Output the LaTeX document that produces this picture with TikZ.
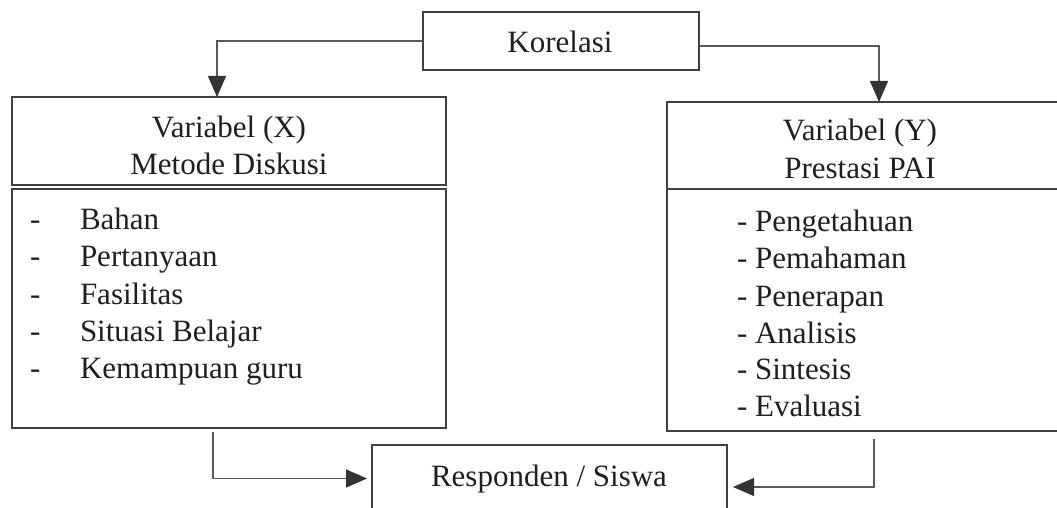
\documentclass[tikz,border=0pt]{standalone}
\usepackage{fontspec}
\setmainfont{Liberation Serif}
\usetikzlibrary{arrows.meta}
\begin{document}
\begin{tikzpicture}[x=1pt,y=-1pt,
  box/.style={draw=black!75, line width=1.2pt, rectangle, inner sep=0pt, outer sep=0pt},
  lbl/.style={anchor=base, inner sep=0pt, outer sep=0pt, text=black!88, font=\fontsize{31}{37}\selectfont},
  lbw/.style={lbl, anchor=base west},
  conn/.style={draw=black!65, line width=1.1pt},
  arr/.style={conn, -{Triangle[length=21pt,width=18pt,color=black!80,fill=black!80]}}]
\useasboundingbox (0,0) rectangle (1057,508);
\clip (0,0) rectangle (1057,508);
% boxes
\node[box, minimum width=276pt, minimum height=58pt] (kor) at (561,41) {};
\node[box, minimum width=434pt, minimum height=88pt] (lxh) at (229,141) {};
\node[box, minimum width=434pt, minimum height=239pt] (lxl) at (229,308.5) {};
\node[box, minimum width=395pt, minimum height=87pt] (ryh) at (864.5,145.5) {};
\node[box, minimum width=395pt, minimum height=242pt] (ryl) at (864.5,310) {};
\node[box, minimum width=355pt, minimum height=67pt] (resp) at (549.5,478.5) {};
% texts
\node[lbl] (tkor) at (560,53) {Korelasi};
\node[lbl] (tx1) at (229,138) {Variabel (X)};
\node[lbl] (tx2) at (229,175) {Metode Diskusi};
\node[lbl] (ty1) at (860,141) {Variabel (Y)};
\node[lbl] (ty2) at (860,178) {Prestasi PAI};
\node[lbl] (tresp) at (549,486) {Responden / Siswa};
% left list
\foreach \t/\yy [count=\i] in {Bahan/229, Pertanyaan/266, Fasilitas/304, Situasi Belajar/341, Kemampuan guru/378}{
  \node[lbw] (ld\i) at (30,\yy) {-};
  \node[lbw] (lt\i) at (80,\yy) {\t};
}
% right list
\foreach \t/\yy [count=\i] in {Pengetahuan/231, Pemahaman/268, Penerapan/306, Analisis/343, Sintesis/379, Evaluasi/416}{
  \node[lbw] (rt\i) at (737,\yy) {- \t};
}
% connector columns
\coordinate (xl) at (217,0);
\coordinate (xr) at (879,0);
\coordinate (xbl) at (213,0);
\coordinate (xbr) at (874,0);
\draw[arr] (kor.west) -| (xl |- lxh.north);
\draw[arr] ([yshift=-5pt]kor.east) -| (xr |- ryh.north);
\draw[arr, shorten <=4pt, shorten >=5pt] (xbl |- lxl.south) |- (resp.west);
\draw[arr, shorten <=8pt, shorten >=6pt] (xbr |- ryl.south) |- ([yshift=-8.5pt]resp.east);
\end{tikzpicture}
\end{document}
